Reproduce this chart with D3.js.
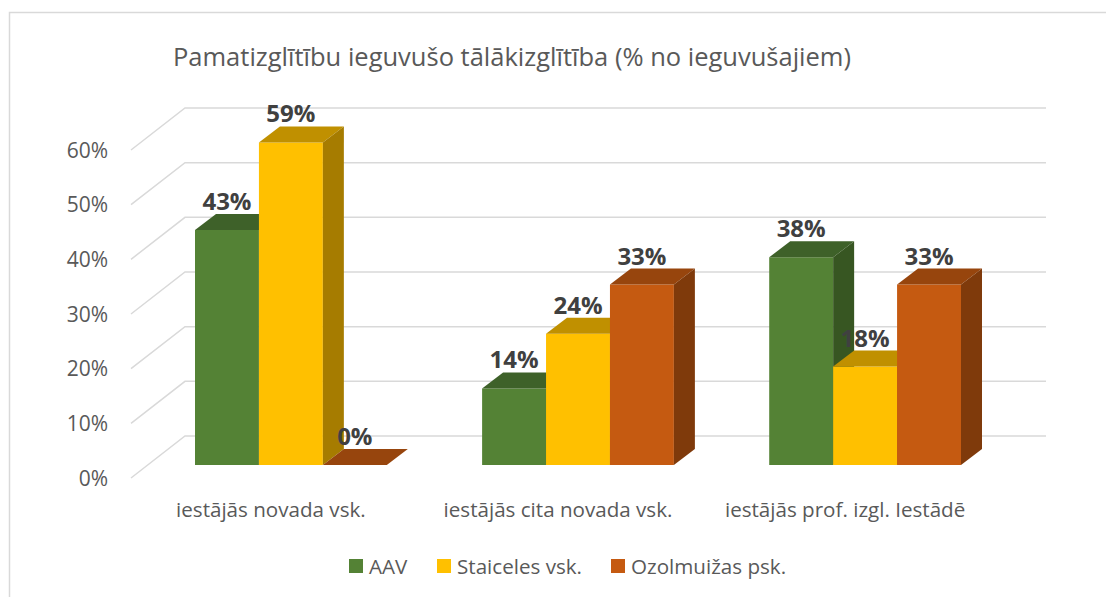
<!DOCTYPE html>
<html>
<head>
<meta charset="utf-8">
<script src="https://cdn.jsdelivr.net/npm/d3@7"></script>
<style>
  body { margin: 0; background: #fff; }
  text { font-family: "Open Sans", Lato, sans-serif; }
</style>
</head>
<body>
<script>
// chart data
const categories = ["iestājās novada vsk.", "iestājās cita novada vsk.", "iestājās prof. izgl. Iestādē"];
const seriesNames = ["AAV", "Staiceles vsk.", "Ozolmuižas psk."];
const aav = [0.43, 0.14, 0.38];
const staiceles = [0.59, 0.24, 0.18];
const ozolmuizas = [0, 0.33, 0.33];
const yTicks = [0, 0.1, 0.2, 0.3, 0.4, 0.5, 0.6];
const title = "Pamatizglītību ieguvušo tālākizglītība (% no ieguvušajiem)";

const width = 1106;
const height = 597;

const colors = {
  front: ["#548235", "#FFC000", "#C55A11"],
  top: ["#3E6129", "#C09000", "#97450D"],
  side: ["#375622", "#A67C00", "#7F3A0B"],
};

const svg = d3.select("body").append("svg")
  .attr("width", width)
  .attr("height", height);

// chart frame
svg.append("rect")
  .attr("x", 9.5).attr("y", 12.5)
  .attr("width", 1110).attr("height", 600)
  .attr("fill", "#fff")
  .attr("stroke", "#D9D9D9")
  .attr("stroke-width", 1.5);

svg.append("text")
  .attr("x", 512).attr("y", 66)
  .attr("text-anchor", "middle")
  .attr("fill", "#595959")
  .style("font-size", "25.5px")
  .text(title);

// 3d geometry: wall floor front-left corner and depth offsets
const wallFront = { x: 131, y: 478 };
const wallDepth = { dx: 54, dy: -42 };
const barDepth = { dx: 21, dy: -16 };
const barBase = 465;
const wallRight = 1046;

const y = d3.scaleLinear().domain([0, 0.6]).range([0, 328]);

// gridlines on the back wall and side wall
const grid = svg.append("g").attr("stroke", "#D9D9D9").attr("stroke-width", 1.5).attr("fill", "none");
yTicks.forEach((t) => {
  const fy = wallFront.y - y(t);
  const by = fy + wallDepth.dy;
  const bx = wallFront.x + wallDepth.dx;
  grid.append("path")
    .attr("d", `M${wallFront.x},${fy}L${bx},${by}L${wallRight},${by}`);
});

svg.append("g")
  .selectAll("text")
  .data(yTicks)
  .join("text")
  .attr("x", 108)
  .attr("y", (d) => wallFront.y - y(d))
  .attr("dy", "0.36em")
  .attr("text-anchor", "end")
  .attr("fill", "#595959")
  .style("font-size", "21px")
  .text((d) => d3.format(".0%")(d));

const x0 = d3.scaleBand().domain(categories).range([195, 961]).paddingInner(0.332);
const x1 = d3.scaleBand().domain(seriesNames).range([0, x0.bandwidth()]);

const values = [aav, staiceles, ozolmuizas];
const bars = [];
categories.forEach((c, ci) => {
  seriesNames.forEach((s, si) => {
    bars.push({ cat: c, series: s, si, value: values[si][ci] });
  });
});

const barG = svg.append("g");
bars.forEach((d) => {
  const xl = x0(d.cat) + x1(d.series);
  const xr = xl + x1.bandwidth();
  const yt = barBase - y(d.value);
  const { dx, dy } = barDepth;
  const g = barG.append("g");
  g.append("path")
    .attr("d", `M${xl},${barBase}L${xl},${yt}L${xr},${yt}L${xr},${barBase}Z`)
    .attr("fill", colors.front[d.si]);
  g.append("path")
    .attr("d", `M${xl},${yt}L${xl + dx},${yt + dy}L${xr + dx},${yt + dy}L${xr},${yt}Z`)
    .attr("fill", colors.top[d.si]);
  g.append("path")
    .attr("d", `M${xr},${barBase}L${xr},${yt}L${xr + dx},${yt + dy}L${xr + dx},${barBase + dy}Z`)
    .attr("fill", colors.side[d.si]);
});

// data labels
svg.append("g")
  .selectAll("text")
  .data(bars)
  .join("text")
  .attr("x", (d) => x0(d.cat) + x1(d.series) + x1.bandwidth() / 2)
  .attr("y", (d) => barBase - y(d.value) + barDepth.dy - 4)
  .attr("text-anchor", "middle")
  .attr("fill", "#404040")
  .style("font-size", "24px")
  .style("font-weight", "bold")
  .text((d) => d3.format(".0%")(d.value));

// category labels
svg.append("g")
  .selectAll("text")
  .data(categories)
  .join("text")
  .attr("x", (d) => x0(d) + x0.bandwidth() / 2 - 20)
  .attr("y", 517)
  .attr("text-anchor", "middle")
  .attr("fill", "#595959")
  .style("font-size", "20.6px")
  .text((d) => d);

// legend
const legendX = [349, 437, 611];
const legend = svg.append("g")
  .selectAll("g")
  .data(seriesNames)
  .join("g")
  .attr("transform", (d, i) => `translate(${legendX[i]},559)`);
legend.append("rect")
  .attr("width", 14).attr("height", 14)
  .attr("fill", (d, i) => colors.front[i]);
legend.append("text")
  .attr("x", 20).attr("y", 14.5)
  .attr("fill", "#595959")
  .style("font-size", "20.6px")
  .text((d) => d);
</script>
</body>
</html>
